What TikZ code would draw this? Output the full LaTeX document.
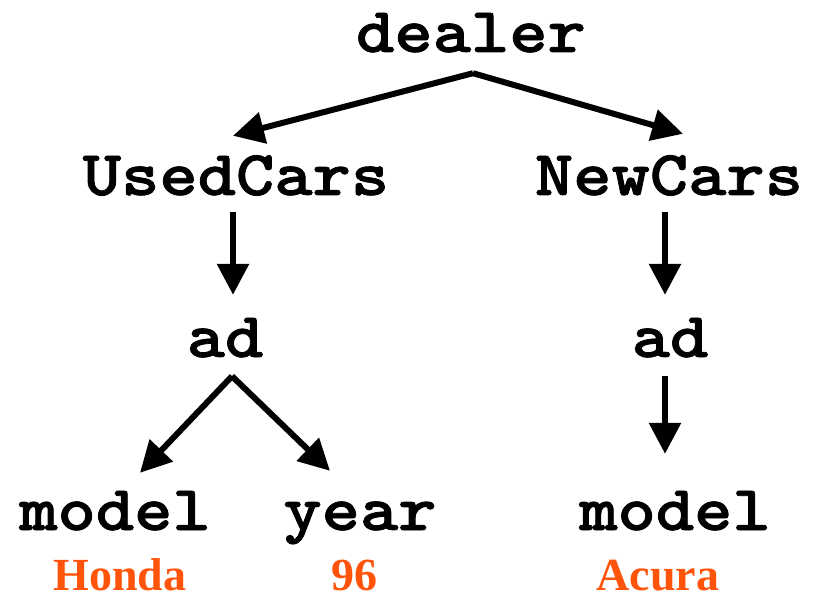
\documentclass[tikz,border=0pt]{standalone}
\usepackage{fontspec}
\usetikzlibrary{arrows.meta}
\newfontfamily\codefont{Latin Modern Mono Light}[FakeStretch=1.14,FakeBold=1.2]
\newfontfamily\valfont{Liberation Serif}
\definecolor{valcolor}{RGB}{255,84,10}
\begin{document}
\begin{tikzpicture}[x=1pt,y=-1pt,
  tag/.style={anchor=base,font=\codefont\bfseries\fontsize{64}{64}\selectfont,
    text height=45pt,text depth=0pt,inner xsep=0pt,inner ysep=17pt},
  val/.style={anchor=base,text=valcolor,font=\valfont\bfseries\fontsize{46}{46}\selectfont,inner sep=0pt},
  link/.style={line width=6pt,-{Triangle[length=31pt,width=31pt]}}]
\useasboundingbox (0,0) rectangle (817,596);
% element names
\node[tag] (dealer) at (471,52) {dealer};
\node[tag] (used)   at (236,195) {UsedCars};
\node[tag] (new)    at (669,195) {NewCars};
\node[tag] (adL)    at (225,357) {ad};
\node[tag] (adR)    at (670,357) {ad};
\node[tag] (modelL) at (115,530) {model};
\node[tag] (year)   at (360,530) {year};
\node[tag] (modelR) at (675,530) {model};
% leaf values
\node[val] (honda) at (120,590) {Honda};
\node[val] (ninety) at (354,590) {96};
\node[val] (acura) at (658,590) {Acura};
% edges
\draw[link] ([xshift=2pt,yshift=-4pt]dealer.south) -- ([xshift=-3pt,yshift=-3pt]used.north);
\draw[link] ([xshift=2pt,yshift=-4pt]dealer.south) -- ([xshift=14pt,yshift=-1pt]new.north);
\draw[link] ([xshift=-3pt]used.south) -- ([xshift=-3pt]used.south |- adL.north);
\draw[link] ([xshift=-4pt]new.south) -- ([xshift=-4pt]new.south |- adR.north);
\draw[link] ([xshift=7pt,yshift=-2pt]adL.south) -- ([xshift=25pt,yshift=-5pt]modelL.north);
\draw[link] ([xshift=7pt,yshift=-2pt]adL.south) -- ([xshift=-30pt,yshift=-3pt]year.north);
\draw[link] ([xshift=-5pt,yshift=-2pt]adR.south) -- ([xshift=-10pt,yshift=14pt]modelR.north);
\end{tikzpicture}
\end{document}
